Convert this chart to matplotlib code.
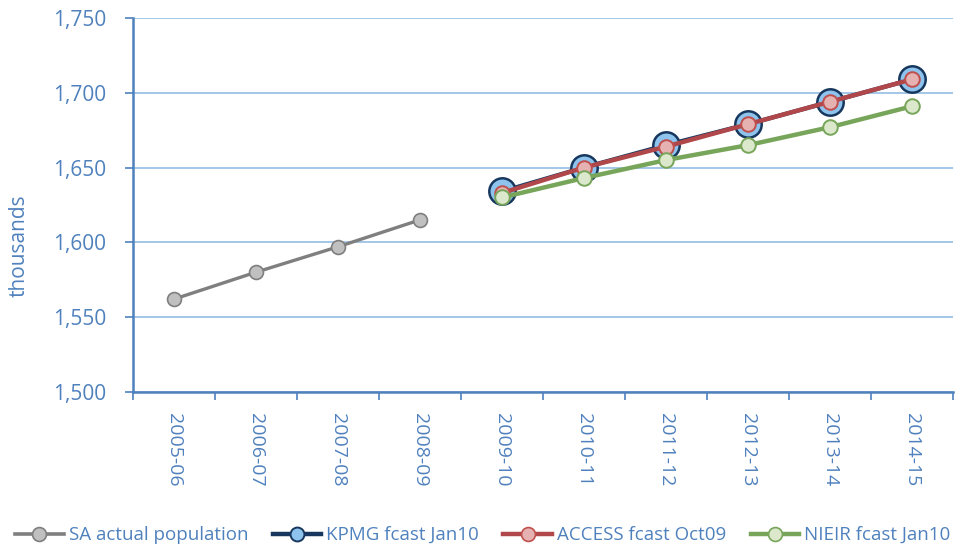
import matplotlib
matplotlib.use("Agg")
import matplotlib.pyplot as plt
from matplotlib.lines import Line2D
from matplotlib.ticker import FuncFormatter, FixedLocator
import numpy as np

plt.rcParams['font.family'] = ['Open Sans', 'DejaVu Sans']

years = ["2005-06", "2006-07", "2007-08", "2008-09", "2009-10",
         "2010-11", "2011-12", "2012-13", "2013-14", "2014-15"]

actual_years = years[:4]
actual = [1562, 1580, 1597, 1615]

fcast_years = years[4:]
kpmg = [1634, 1650, 1665, 1679, 1694, 1709]
access = [1633, 1650, 1664, 1679, 1694, 1709]
nieir = [1630, 1643, 1655, 1665, 1677, 1691]

yticks = [1500, 1550, 1600, 1650, 1700, 1750]

BLUE_TXT = "#4F81BD"
GRID = "#9DC3E6"

fig = plt.figure(figsize=(9.56, 5.45), dpi=100)
ax = fig.add_axes([0.139, 0.281, 0.858, 0.686])

xpos = {y: i for i, y in enumerate(years)}
xa = [xpos[y] for y in actual_years]
xf = [xpos[y] for y in fcast_years]

ax.plot(xa, actual, color="#7F7F7F", lw=2.4, marker="o", ms=10,
        mfc="#C0C0C0", mec="#7F7F7F", mew=1.2, zorder=3)
ax.plot(xf, kpmg, color="#17375E", lw=3.1, marker="o", ms=19,
        mfc="#8DC3EC", mec="#17375E", mew=1.8, zorder=3)
ax.plot(xf, access, color="#B0474A", lw=3.2, marker="o", ms=10.5,
        mfc="#E6B1B1", mec="#C0504D", mew=1.4, zorder=4)
ax.plot(xf, nieir, color="#77A55A", lw=3.2, marker="o", ms=10.5,
        mfc="#DCE8CC", mec="#77A55A", mew=1.4, zorder=5)

ax.set_xlim(-0.5, len(years) - 0.5)
ax.set_ylim(yticks[0], yticks[-1])
ax.set_yticks(yticks)
ax.yaxis.set_major_formatter(FuncFormatter(lambda v, p: f"{int(v):,}"))
ax.grid(axis="y", color=GRID, lw=1.3, zorder=0)

ax.set_xticks(range(len(years)))
ax.set_xticklabels(years, rotation=-90, va="top", ha="center")
ax.xaxis.set_minor_locator(FixedLocator(np.arange(-0.5, len(years), 1.0)))
ax.tick_params(axis="x", which="major", length=0, pad=15,
               labelsize=14, labelcolor=BLUE_TXT)
ax.tick_params(axis="x", which="minor", length=6, width=1.2,
               color=BLUE_TXT, direction="out")
ax.tick_params(axis="y", length=6, width=1.2, color=BLUE_TXT,
               labelsize=15, labelcolor=BLUE_TXT, pad=13)

for s in ["top", "right"]:
    ax.spines[s].set_visible(False)
for s in ["left", "bottom"]:
    ax.spines[s].set_color(BLUE_TXT)
    ax.spines[s].set_linewidth(1.8)

ax.set_ylabel("thousands", color=BLUE_TXT, fontsize=15, va="center")
ax.yaxis.set_label_coords(-0.139, 0.39)

handles = [
    Line2D([], [], color="#7F7F7F", lw=2.6, marker="o", ms=10,
           mfc="#C0C0C0", mec="#7F7F7F", mew=1.2),
    Line2D([], [], color="#17375E", lw=3.2, marker="o", ms=10,
           mfc="#8DC3EC", mec="#17375E", mew=1.4),
    Line2D([], [], color="#B0474A", lw=3.2, marker="o", ms=10,
           mfc="#E6B1B1", mec="#C0504D", mew=1.2),
    Line2D([], [], color="#77A55A", lw=3.2, marker="o", ms=10,
           mfc="#DCE8CC", mec="#77A55A", mew=1.2),
]
labels = ["SA actual population", "KPMG fcast Jan10",
          "ACCESS fcast Oct09", "NIEIR fcast Jan10"]
leg = fig.legend(handles, labels, loc="center", bbox_to_anchor=(0.505, 0.018),
                 ncol=4, frameon=False, fontsize=13.5, handlelength=2.6,
                 handletextpad=0.26, columnspacing=1.3, borderaxespad=0)
for t in leg.get_texts():
    t.set_color(BLUE_TXT)

fig.savefig("out.png", dpi=100)
